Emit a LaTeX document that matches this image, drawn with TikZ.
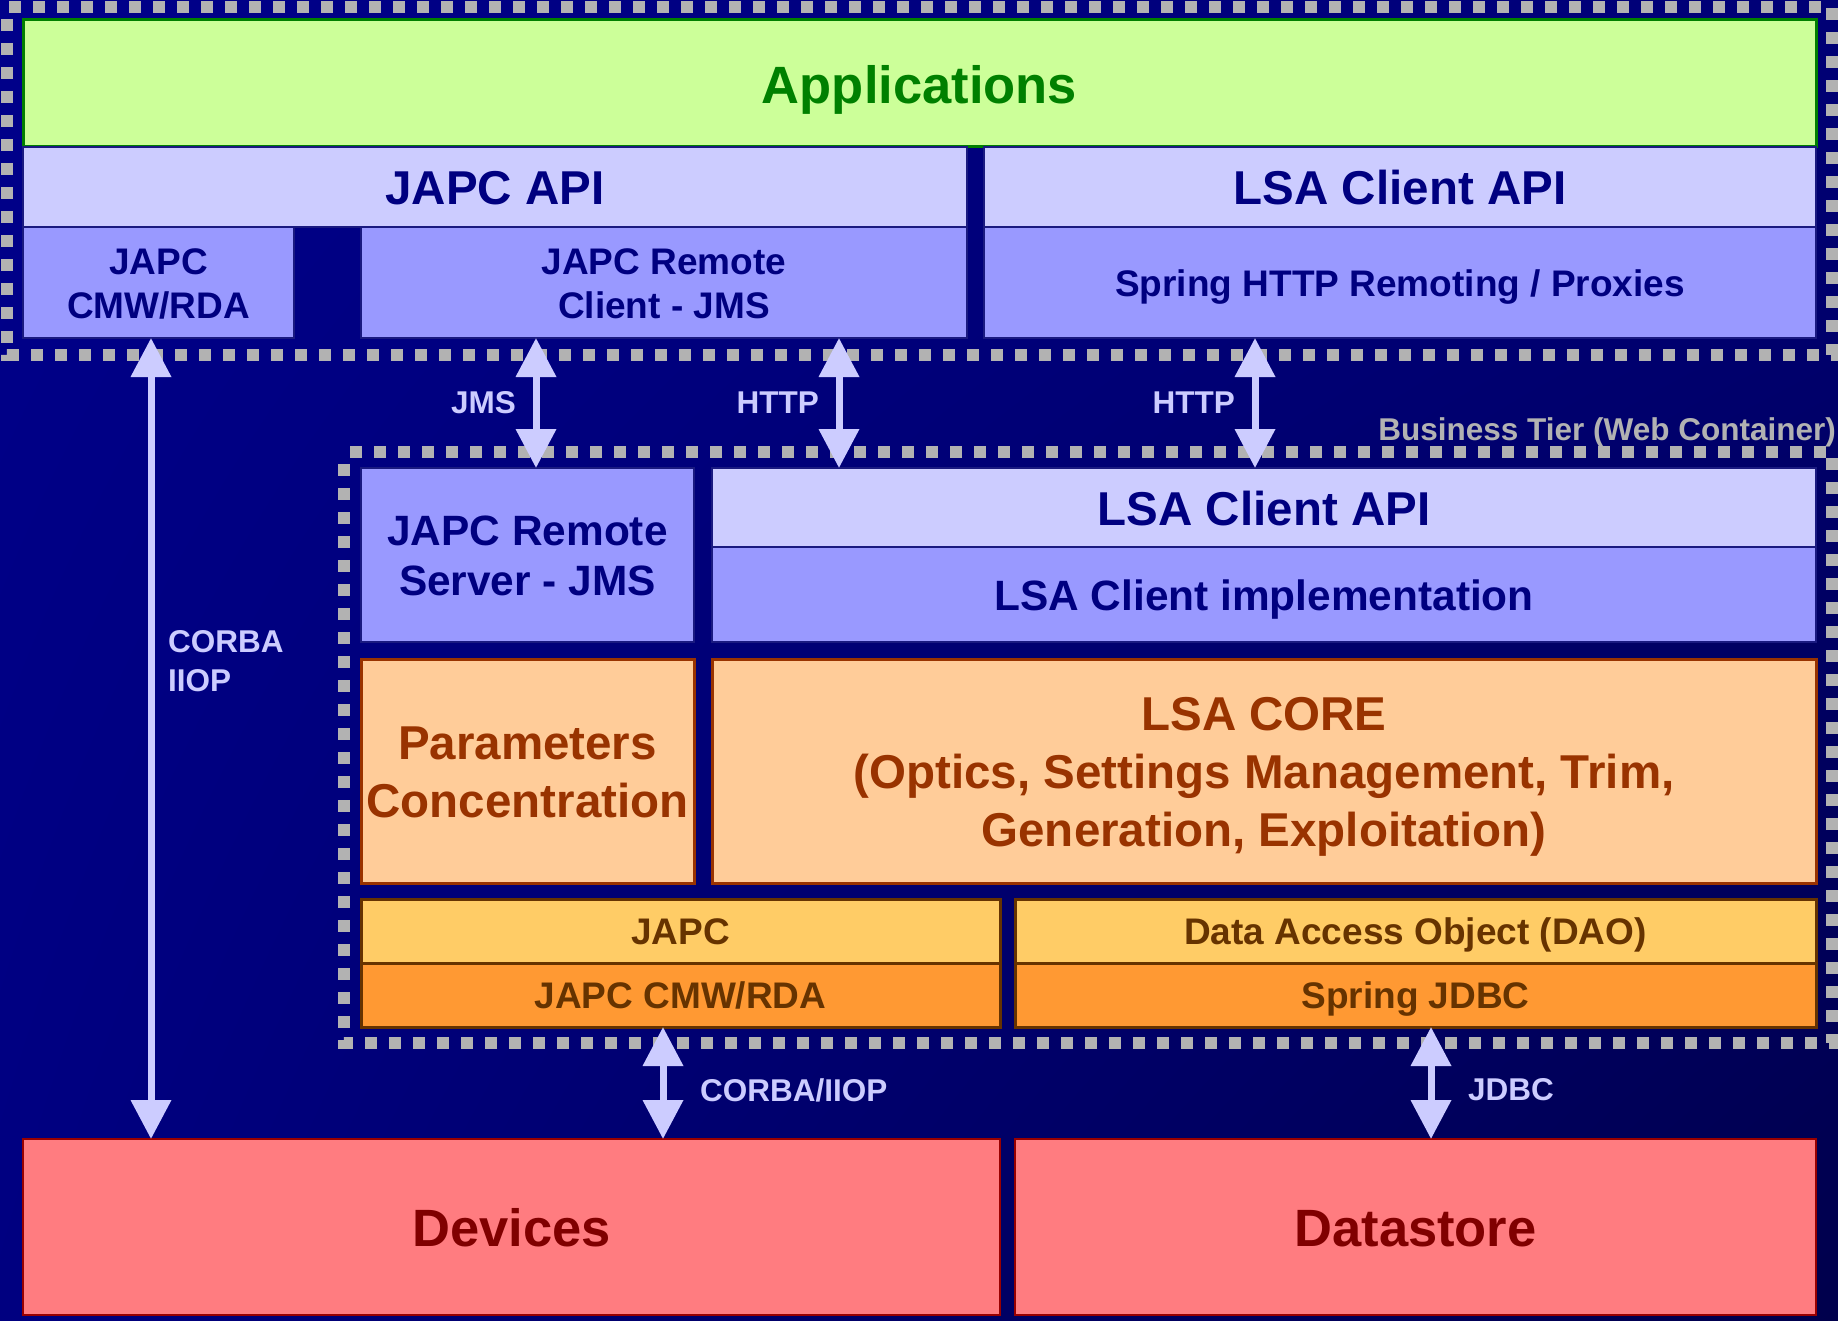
\documentclass[tikz,border=0pt]{standalone}
\usepackage{fontspec}
\setmainfont{Liberation Sans}
\usetikzlibrary{arrows.meta,shadings}
\definecolor{bgUL}{HTML}{00008A}
\definecolor{bgUR}{HTML}{000076}
\definecolor{bgLL}{HTML}{000080}
\definecolor{bgLR}{HTML}{00004C}
\definecolor{dotc}{HTML}{B2B2B2}
\definecolor{appfill}{HTML}{CCFF99}
\definecolor{appdraw}{HTML}{008000}
\definecolor{lav}{HTML}{CCCCFF}
\definecolor{blu}{HTML}{9999FF}
\definecolor{navyt}{HTML}{000080}
\definecolor{navyd}{HTML}{1A1A80}
\definecolor{peach}{HTML}{FFCC99}
\definecolor{brownr}{HTML}{993300}
\definecolor{yel}{HTML}{FFCC66}
\definecolor{orng}{HTML}{FF9933}
\definecolor{brownd}{HTML}{663300}
\definecolor{pink}{HTML}{FF7C80}
\definecolor{redd}{HTML}{990000}
\definecolor{redt}{HTML}{800000}
\definecolor{arrc}{HTML}{CCCCFF}
\newcommand\mkbox[7]{\node[#6, minimum width=#4pt, minimum height=#5pt] (#1) at (#2,#3) {#7};}
\begin{document}
\begin{tikzpicture}[x=1pt,y=-1pt,
  box/.style={anchor=north west, inner sep=0pt, outer sep=0pt, align=center, text depth=0pt},
  fA/.style={font=\bfseries\fontsize{52.5}{62}\selectfont, text height=39.4pt},
  fB/.style={font=\bfseries\fontsize{47.5}{58}\selectfont, text height=35.6pt},
  fC/.style={font=\bfseries\fontsize{42.4}{50}\selectfont, text height=31.8pt},
  fD/.style={font=\bfseries\fontsize{37}{44}\selectfont, text height=27.75pt},
  fL/.style={font=\bfseries\fontsize{31.5}{39}\selectfont},
  appbox/.style={box, fA, fill=appfill, draw=appdraw, line width=3pt, text=appdraw},
  lavbox/.style={box, fill=lav, draw=navyd, line width=2pt, text=navyt},
  blubox/.style={box, fill=blu, draw=navyd, line width=2pt, text=navyt},
  peachbox/.style={box, fB, fill=peach, draw=brownr, line width=3pt, text=brownr},
  yelbox/.style={box, fD, fill=yel, draw=brownd, line width=3pt, text=brownd},
  orbox/.style={box, fD, fill=orng, draw=brownd, line width=3pt, text=brownd},
  redbox/.style={box, fA, fill=pink, draw=redd, line width=2pt, text=redt},
  frame/.style={draw=dotc, line width=12pt, dash pattern=on 12pt off 12pt, dash phase=12pt},
  dbl/.style={draw=arrc, line width=7pt, {Triangle[length=39pt,width=39pt]}-{Triangle[length=39pt,width=39pt]}},
  lbl/.style={fL, text=arrc, inner sep=0pt},
]
\useasboundingbox (0,0) rectangle (1838,1321);
\shade[upper left=bgUL, upper right=bgUR, lower left=bgLL, lower right=bgLR] (0,0) rectangle (1838,1321);

% dotted frames
\draw[frame] (7,7) rectangle (1832,355);
\draw[frame] (344,452) rectangle (1832,1043);

% client tier
\mkbox{apps}{23}{20}{1793}{127}{appbox}{Applications}
\mkbox{japcapi}{23}{147}{944}{80}{lavbox,fB}{JAPC API}
\mkbox{lsaapi1}{984}{147}{832}{80}{lavbox,fB}{LSA Client API}
\mkbox{japccmw1}{23}{227}{271}{111}{blubox,fD,text height=71.75pt}{JAPC\\CMW/RDA}
\mkbox{remclient}{361}{227}{606}{111}{blubox,fD,text height=71.75pt}{JAPC Remote\\Client - JMS}
\mkbox{spring}{984}{227}{832}{111}{blubox,fD}{Spring HTTP Remoting / Proxies}

% business tier
\mkbox{remserver}{361}{468}{333}{174}{blubox,fC,text height=81.8pt}{JAPC Remote\\Server - JMS}
\mkbox{lsaapi2}{712}{468}{1104}{79}{lavbox,fB}{LSA Client API}
\mkbox{lsaimpl}{712}{547}{1104}{95}{blubox,fC}{LSA Client implementation}
\mkbox{params}{361}{659}{333}{224}{peachbox,text height=93.6pt}{Parameters\\Concentration}
\mkbox{core}{712}{659}{1104}{224}{peachbox,text height=151.6pt}{LSA CORE\\(Optics, Settings Management, Trim,\\Generation, Exploitation)}
\mkbox{japc}{361}{899}{639}{64}{yelbox}{JAPC}
\mkbox{japccmw2}{361}{963}{639}{64}{orbox}{JAPC CMW/RDA}
\mkbox{dao}{1015}{899}{801}{64}{yelbox}{Data Access Object (DAO)}
\mkbox{jdbc}{1015}{963}{801}{64}{orbox}{Spring JDBC}

% resources
\mkbox{devices}{23}{1139}{977}{176}{redbox}{Devices}
\mkbox{datastore}{1015}{1139}{801}{176}{redbox}{Datastore}

\node[fL, text=dotc, inner sep=0pt, anchor=base east] (biz) at (1836,440) {Business Tier (Web Container)};

% arrows
\coordinate (xcorba) at (151,0);
\coordinate (xjms) at (536,0);
\coordinate (xhttpa) at (839,0);
\coordinate (xhttpb) at (1255,0);
\coordinate (xiiop) at (663,0);
\coordinate (xjdbc) at (1431,0);
\draw[dbl] (japccmw1.south -| xcorba) -- (devices.north -| xcorba);
\draw[dbl] (remclient.south -| xjms) -- (remserver.north -| xjms);
\draw[dbl] (remclient.south -| xhttpa) -- (lsaapi2.north -| xhttpa);
\draw[dbl] (spring.south -| xhttpb) -- (lsaapi2.north -| xhttpb);
\draw[dbl] (japccmw2.south -| xiiop) -- (devices.north -| xiiop);
\draw[dbl] (jdbc.south -| xjdbc) -- (datastore.north -| xjdbc);

% arrow labels
\node[lbl, anchor=east] (ljms) at (516,403) {JMS};
\node[lbl, anchor=east] (lhttpa) at (819,403) {HTTP};
\node[lbl, anchor=east] (lhttpb) at (1235,403) {HTTP};
\node[lbl, anchor=base west, align=left] (lcorba) at (168,691) {CORBA\\IIOP};
\node[lbl, anchor=west] (liiop) at (700,1090) {CORBA/IIOP};
\node[lbl, anchor=west] (ljdbc) at (1468,1090) {JDBC};
\end{tikzpicture}
\end{document}
